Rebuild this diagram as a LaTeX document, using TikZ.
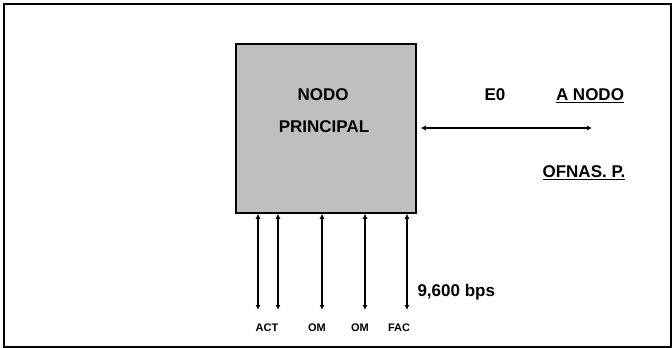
\documentclass[tikz,border=0pt]{standalone}
\usepackage{fontspec}
\setmainfont{Liberation Sans}
\usetikzlibrary{arrows.meta}

\begin{document}
\begin{tikzpicture}[x=1pt,y=-1pt,
        link/.style={{Latex[length=5pt,width=5pt]}-{Latex[length=5pt,width=5pt]}, line width=1.2pt},
        lbl/.style={font=\fontsize{17}{19}\selectfont\bfseries},
        tag/.style={font=\fontsize{11}{13}\selectfont\bfseries}]
            \useasboundingbox (0,0) rectangle (672,348);
            \draw[line width=1.5pt] (4,4) rectangle (671,347);

            \node[draw, line width=1.5pt, fill=black!25, minimum width=180pt,
                minimum height=169pt, inner sep=0pt] (pn) at (326,128.5) {};
            \node[lbl] (nodo) at (323,95) {NODO};
            \node[lbl] (princ) at (324,127) {PRINCIPAL};

            \node[lbl] (e0) at (495,95) {E0};
            \node[lbl] (anodo) at (590,96) {\underline{A NODO}};
            \node[lbl] (ofnas) at (584,173) {\underline{OFNAS. P.}};
            \coordinate (r1) at (592,128);
            \draw[link, shorten <=4pt] (pn.east |- r1) -- (r1);

            \foreach \x [count=\i] in {258,278,322,365,407} {
                \coordinate (b\i) at (\x,310);
                \draw[link] (pn.south -| b\i) -- (b\i);
            }
            \node[tag] (act) at (267,328) {ACT};
            \node[tag] (om1) at (317,328) {OM};
            \node[tag] (om2) at (360,328) {OM};
            \node[tag] (fac) at (399,328) {FAC};
            \node[lbl, anchor=west] (bps) at (414,292) {9,600 bps};
        \end{tikzpicture}
\end{document}
